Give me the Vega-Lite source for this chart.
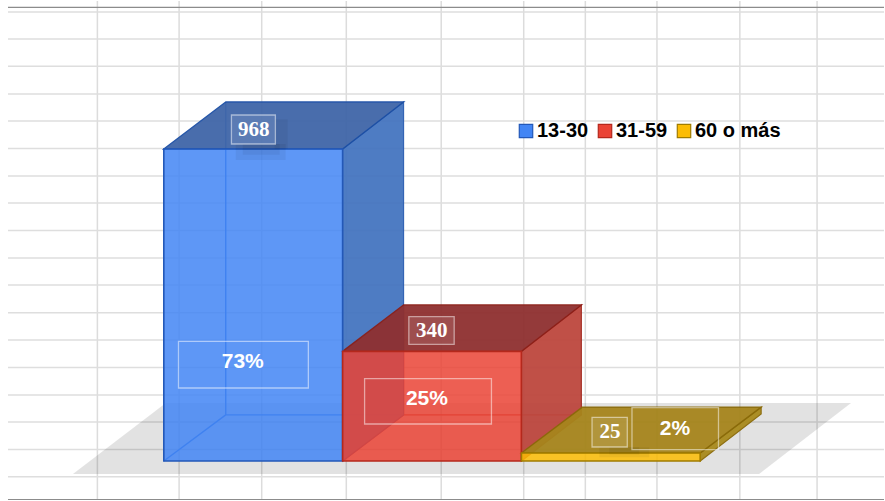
{"$schema":"https://vega.github.io/schema/vega-lite/v6.json","width":885,"height":501,"padding":0,"autosize":{"type":"fit","contains":"padding"},"background":"white","config":{"view":{"stroke":null}},
"datasets":{
"vgrid":[{"x":97.5},{"x":179.3},{"x":262},{"x":346.7},{"x":441.7},{"x":524.3},{"x":586},{"x":657.7},{"x":740.7},{"x":818}],
"hgrid":[{"y":1393.1},{"y":1309.3},{"y":1224.6},{"y":1138.7},{"y":1054.9},{"y":969.6},{"y":884.3},{"y":800.5},{"y":715.2},{"y":629.9},{"y":546.1},{"y":460.1},{"y":375.4},{"y":289.8},{"y":204.8},{"y":121},{"y":35.7},{"y":-48.7}],
"border":[{"y":1407.7},{"y":-119.5}],
"floor":[{"y":-40.3,"x":73,"x2":760},{"y":180,"x":166,"x2":852}],
"back":[{"serie":"13-30","x":226,"y":1114,"x2":226,"y2":143},{"serie":"13-30","x":226,"y":143,"x2":404,"y2":143},{"serie":"13-30","x":164,"y":0,"x2":226,"y2":143},{"serie":"31-59","x":404,"y":484,"x2":404,"y2":143},{"serie":"31-59","x":404,"y":143,"x2":582,"y2":143},{"serie":"31-59","x":343,"y":0,"x2":404,"y2":143}],
"side":[{"serie":"13-30","x":343,"top":968,"base":0},{"serie":"13-30","x":404,"top":1114,"base":143},{"serie":"31-59","x":522,"top":340,"base":0},{"serie":"31-59","x":582,"top":484,"base":143},{"serie":"60 o más","x":701,"top":25,"base":0},{"serie":"60 o más","x":762,"top":167,"base":146}],
"tops":[{"serie":"13-30","y":968,"x":164,"x2":343},{"serie":"13-30","y":1114,"x":226,"x2":404},{"serie":"31-59","y":340,"x":343,"x2":522},{"serie":"31-59","y":484,"x":404,"x2":582},{"serie":"60 o más","y":25,"x":522,"x2":701},{"serie":"60 o más","y":167,"x":583,"x2":762}],
"bars":[{"serie":"13-30","valor":968,"base":0,"x":164,"x2":343},{"serie":"31-59","valor":340,"base":0,"x":343,"x2":522},{"serie":"60 o más","valor":25,"base":0,"x":522,"x2":701}],
"glow":[{"x":236,"x2":286,"y":983.5,"y2":934},{"x":243,"x2":280,"y":983.5,"y2":950},{"x":275,"x2":288,"y":1060,"y2":968},{"x":600,"x2":650,"y":43,"y2":12},{"x":610,"x2":640,"y":43,"y2":20}],
"counts":[{"t":"968","cx":254,"cy":1028.5,"x":231.7,"x2":275.7,"y":1073.5,"y2":983.5},{"t":"340","cx":432.3,"cy":403.4,"x":409.3,"x2":454.7,"y":447.7,"y2":362.1},{"t":"25","cx":610.6,"cy":90.9,"x":592.7,"x2":628,"y":135.6,"y2":43.4}],
"pcts":[{"t":"73%","cx":243,"cy":307.2,"x":178.7,"x2":308.7,"y":371.4,"y2":226.5},{"t":"25%","cx":427.4,"cy":191.4,"x":365,"x2":492,"y":255.4,"y2":114.8},{"t":"2%","cx":675.7,"cy":99.3,"x":632.7,"x2":719.3,"y":165.4,"y2":35.1}]
},
"layer":[
{"data":{"name":"vgrid"},"mark":{"type":"rule","color":"#dcdcdc","strokeWidth":1.5},"encoding":{"x":{"field":"x","type":"quantitative","scale":{"domain":[0,885],"nice":false,"zero":false},"axis":null},"y":{"datum":1427,"type":"quantitative","scale":{"domain":[-124.1,1430.3],"nice":false,"zero":false},"axis":null},"y2":{"datum":-121}}},
{"data":{"name":"hgrid"},"mark":{"type":"rule","color":"#dedede","strokeWidth":1.5},"encoding":{"y":{"field":"y","type":"quantitative","scale":{"domain":[-124.1,1430.3],"nice":false,"zero":false},"axis":null},"x":{"datum":8,"type":"quantitative","scale":{"domain":[0,885],"nice":false,"zero":false},"axis":null},"x2":{"datum":885}}},
{"data":{"name":"border"},"mark":{"type":"rule","color":"#8c8c8c","strokeWidth":1.2},"encoding":{"y":{"field":"y","type":"quantitative","scale":{"domain":[-124.1,1430.3],"nice":false,"zero":false},"axis":null},"x":{"datum":8,"type":"quantitative","scale":{"domain":[0,885],"nice":false,"zero":false},"axis":null},"x2":{"datum":885}}},
{"data":{"name":"floor"},"mark":{"type":"area","orient":"horizontal","color":"#000000","opacity":0.115},"encoding":{"y":{"field":"y","type":"quantitative","scale":{"domain":[-124.1,1430.3],"nice":false,"zero":false},"axis":null},"x":{"field":"x","type":"quantitative","scale":{"domain":[0,885],"nice":false,"zero":false},"axis":null},"x2":{"field":"x2"}}},
{"data":{"name":"back"},"mark":{"type":"rule","strokeWidth":1.4},"encoding":{"x":{"field":"x","type":"quantitative","scale":{"domain":[0,885],"nice":false,"zero":false},"axis":null},"x2":{"field":"x2"},"y":{"field":"y","type":"quantitative","scale":{"domain":[-124.1,1430.3],"nice":false,"zero":false},"axis":null},"y2":{"field":"y2"},"color":{"field":"serie","type":"nominal","legend":null,"scale":{"domain":["13-30","31-59"],"range":["#2f6fd8","#c23a30"]}}}},
{"data":{"name":"side"},"mark":{"type":"area","opacity":0.95,"strokeWidth":1.2},"encoding":{"x":{"field":"x","type":"quantitative","scale":{"domain":[0,885],"nice":false,"zero":false},"axis":null},"y":{"field":"top","type":"quantitative","scale":{"domain":[-124.1,1430.3],"nice":false,"zero":false},"axis":null},"y2":{"field":"base"},"detail":{"field":"serie"},"fill":{"field":"serie","type":"nominal","legend":null,"scale":{"domain":["13-30","31-59","60 o más"],"range":["#4575c0","#bd473e","#a98a1c"]}},"stroke":{"field":"serie","type":"nominal","legend":null,"scale":{"domain":["13-30","31-59","60 o más"],"range":["#2a5cb0","#a52a20","#8a6a08"]}}}},
{"data":{"name":"tops"},"mark":{"type":"area","orient":"horizontal","opacity":0.95,"strokeWidth":1.4},"encoding":{"y":{"field":"y","type":"quantitative","scale":{"domain":[-124.1,1430.3],"nice":false,"zero":false},"axis":null},"x":{"field":"x","type":"quantitative","scale":{"domain":[0,885],"nice":false,"zero":false},"axis":null},"x2":{"field":"x2"},"detail":{"field":"serie"},"fill":{"field":"serie","type":"nominal","legend":null,"scale":{"domain":["13-30","31-59","60 o más"],"range":["#4066a8","#8f3030","#a6851c"]}},"stroke":{"field":"serie","type":"nominal","legend":null,"scale":{"domain":["13-30","31-59","60 o más"],"range":["#1c4fa5","#8c1f18","#8a6a08"]}}}},
{"data":{"name":"bars"},"mark":{"type":"rect","fillOpacity":0.85,"strokeWidth":1.6},"encoding":{"x":{"field":"x","type":"quantitative","scale":{"domain":[0,885],"nice":false,"zero":false},"axis":null},"x2":{"field":"x2"},"y":{"field":"valor","type":"quantitative","scale":{"domain":[-124.1,1430.3],"nice":false,"zero":false},"axis":null},"y2":{"field":"base"},"fill":{"field":"serie","type":"nominal","scale":{"domain":["13-30","31-59","60 o más"],"range":["#4285f4","#ea4335","#fbbc04"]},"legend":{"title":null,"orient":"none","legendX":516,"legendY":121,"direction":"horizontal","symbolType":"square","symbolSize":180,"symbolOpacity":1,"symbolStrokeWidth":1.2,"labelFont":"Liberation Sans","labelFontWeight":"bold","labelFontSize":20,"labelColor":"#000000","labelOffset":1,"columnPadding":6}},"stroke":{"field":"serie","type":"nominal","scale":{"domain":["13-30","31-59","60 o más"],"range":["#2358b8","#b5281c","#a07c00"]},"legend":{"title":null,"orient":"none","legendX":516,"legendY":121,"direction":"horizontal","symbolType":"square","symbolSize":180,"symbolOpacity":1,"symbolStrokeWidth":1.2,"labelFont":"Liberation Sans","labelFontWeight":"bold","labelFontSize":20,"labelColor":"#000000","labelOffset":1,"columnPadding":6}}}},
{"data":{"name":"glow"},"mark":{"type":"rect","fill":"#000000","fillOpacity":0.05},"encoding":{"x":{"field":"x","type":"quantitative","scale":{"domain":[0,885],"nice":false,"zero":false},"axis":null},"x2":{"field":"x2"},"y":{"field":"y","type":"quantitative","scale":{"domain":[-124.1,1430.3],"nice":false,"zero":false},"axis":null},"y2":{"field":"y2"}}},
{"data":{"name":"counts"},"mark":{"type":"rect","fill":"#ffffff","fillOpacity":0.1,"stroke":"#ffffff","strokeOpacity":0.5,"strokeWidth":1.3},"encoding":{"x":{"field":"x","type":"quantitative","scale":{"domain":[0,885],"nice":false,"zero":false},"axis":null},"x2":{"field":"x2"},"y":{"field":"y","type":"quantitative","scale":{"domain":[-124.1,1430.3],"nice":false,"zero":false},"axis":null},"y2":{"field":"y2"}}},
{"data":{"name":"pcts"},"mark":{"type":"rect","fillOpacity":0,"stroke":"#ffffff","strokeOpacity":0.5,"strokeWidth":1.3},"encoding":{"x":{"field":"x","type":"quantitative","scale":{"domain":[0,885],"nice":false,"zero":false},"axis":null},"x2":{"field":"x2"},"y":{"field":"y","type":"quantitative","scale":{"domain":[-124.1,1430.3],"nice":false,"zero":false},"axis":null},"y2":{"field":"y2"}}},
{"data":{"name":"counts"},"mark":{"type":"text","font":"Liberation Serif","fontWeight":"bold","fontSize":21,"color":"#ffffff","baseline":"middle","align":"center"},"encoding":{"x":{"field":"cx","type":"quantitative","scale":{"domain":[0,885],"nice":false,"zero":false},"axis":null},"y":{"field":"cy","type":"quantitative","scale":{"domain":[-124.1,1430.3],"nice":false,"zero":false},"axis":null},"text":{"field":"t"}}},
{"data":{"name":"pcts"},"mark":{"type":"text","font":"Liberation Sans","fontWeight":"bold","fontSize":21,"color":"#ffffff","baseline":"middle","align":"center"},"encoding":{"x":{"field":"cx","type":"quantitative","scale":{"domain":[0,885],"nice":false,"zero":false},"axis":null},"y":{"field":"cy","type":"quantitative","scale":{"domain":[-124.1,1430.3],"nice":false,"zero":false},"axis":null},"text":{"field":"t"}}}
],
"resolve":{"scale":{"fill":"independent","stroke":"independent","color":"independent"}}}
